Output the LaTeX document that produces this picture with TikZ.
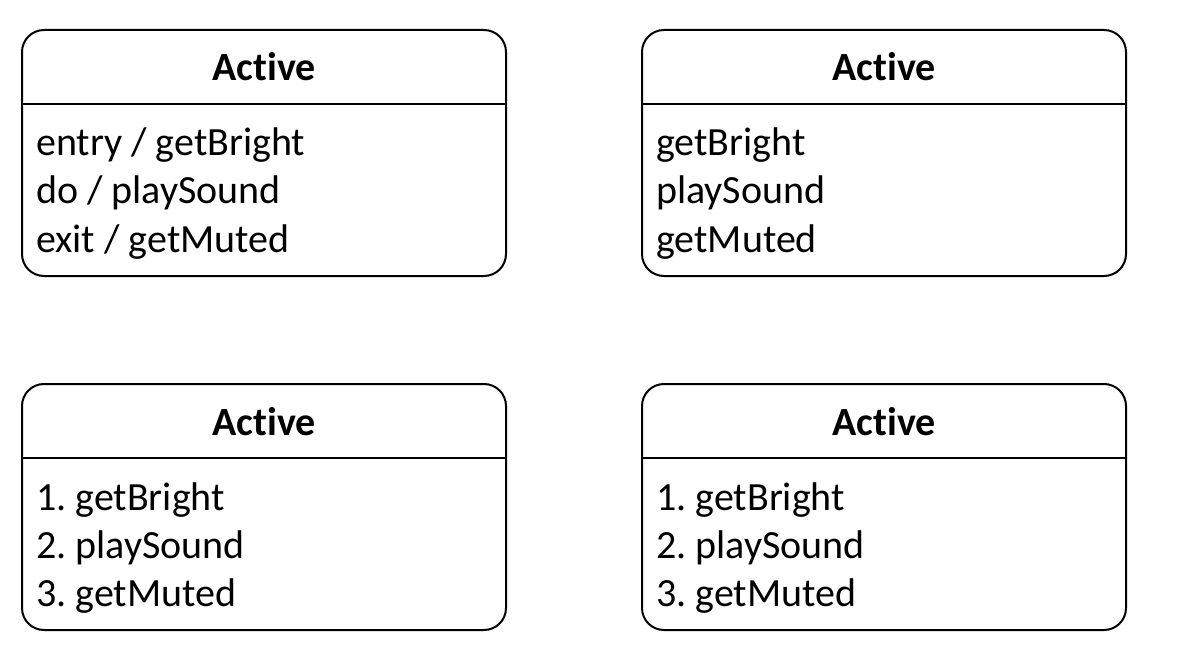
\documentclass[tikz,border=0pt]{standalone}
\usepackage{fontspec}
\setmainfont{Carlito}[Ligatures={NoCommon,NoContextual}]
\frenchspacing
\begin{document}
\begin{tikzpicture}[x=1pt,y=-1pt,
  statebox/.style={draw, line width=2pt, rounded corners=22pt, minimum width=484pt, minimum height=246pt, inner sep=0pt},
  divider/.style={line width=2pt},
  title/.style={anchor=base, font=\fontsize{40}{48}\selectfont\bfseries, inner sep=0pt},
  item/.style={anchor=base west, font=\fontsize{40}{48}\selectfont, inner sep=0pt}]
\useasboundingbox (0,0) rectangle (1179,666);
% box 1
\node[statebox] (b1) at (264,153) {};
\draw[divider] ([yshift=-75pt]b1.north west) -- ([yshift=-75pt]b1.north east);
\node[title] (t1) at (264,81) {Active};
\node[item] (a1) at (36,156) {entry / getBright};
\node[item] (a2) at (36,204) {do / playSound};
\node[item] (a3) at (36,252) {exit / getMuted};
% box 2
\node[statebox] (b2) at (884,153) {};
\draw[divider] ([yshift=-75pt]b2.north west) -- ([yshift=-75pt]b2.north east);
\node[title] (t2) at (884,81) {Active};
\node[item] (c1) at (656,156) {getBright};
\node[item] (c2) at (656,204) {playSound};
\node[item] (c3) at (656,252) {getMuted};
% box 3
\node[statebox] (b3) at (264,507) {};
\draw[divider] ([yshift=-75pt]b3.north west) -- ([yshift=-75pt]b3.north east);
\node[title] (t3) at (264,435) {Active};
\node[item] (d1) at (36,510) {1. getBright};
\node[item] (d2) at (36,558) {2. playSound};
\node[item] (d3) at (36,606) {3. getMuted};
% box 4
\node[statebox] (b4) at (884,507) {};
\draw[divider] ([yshift=-75pt]b4.north west) -- ([yshift=-75pt]b4.north east);
\node[title] (t4) at (884,435) {Active};
\node[item] (e1) at (656,510) {1. getBright};
\node[item] (e2) at (656,558) {2. playSound};
\node[item] (e3) at (656,606) {3. getMuted};
\end{tikzpicture}
\end{document}
